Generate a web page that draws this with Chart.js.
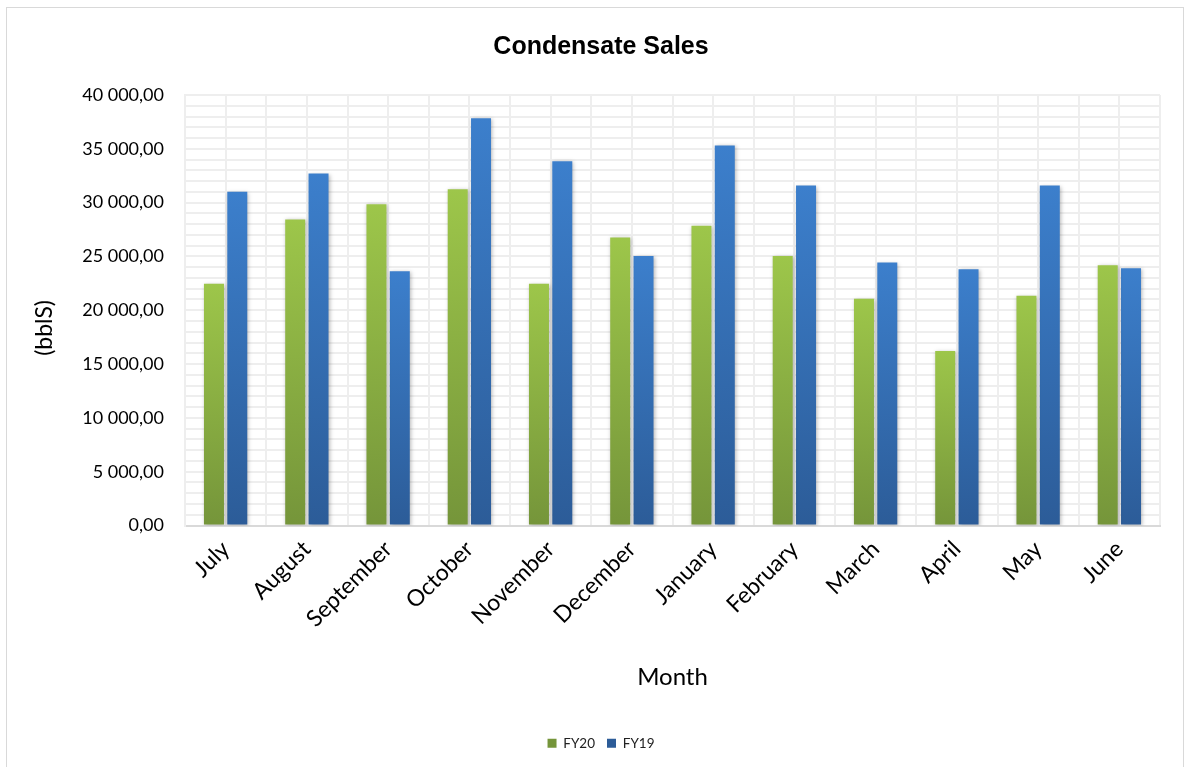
<!DOCTYPE html>
<html>
<head>
<meta charset="utf-8">
<script src="https://cdn.jsdelivr.net/npm/chart.js@4.4.1/dist/chart.umd.min.js"></script>
<style>
  html, body { margin: 0; padding: 0; background: #fff; overflow: hidden; }
  #wrap { position: relative; width: 1187px; height: 767px; }
  #frame { position: absolute; left: 6px; top: 7px; width: 1176px; height: 800px; border: 1px solid #d9d9d9; pointer-events: none; }
  canvas { position: absolute; left: 0; top: 0; }
</style>
</head>
<body>
<div id="wrap">
  <canvas id="c" width="1187" height="767"></canvas>
  <div id="frame"></div>
</div>
<script>
const months = ['July','August','September','October','November','December','January','February','March','April','May','June'];
const fy20 = [22470, 28440, 29840, 31240, 22470, 26760, 27850, 25050, 21070, 16220, 21350, 24180];
const fy19 = [31020, 32700, 23620, 37830, 33850, 25050, 35310, 31580, 24430, 23800, 31580, 23900];
const yTickValues = [0, 5000, 10000, 15000, 20000, 25000, 30000, 35000, 40000];
const yTickLabels = ['0,00', '5 000,00', '10 000,00', '15 000,00', '20 000,00', '25 000,00', '30 000,00', '35 000,00', '40 000,00'];

const FONT = 'Lato, "Open Sans", sans-serif';

function grad(top, bottom, mid) {
  return (ctx) => {
    const chart = ctx.chart;
    const {chartArea, scales} = chart;
    if (!chartArea || ctx.type !== 'data' || !scales.y) return mid;
    const y0 = scales.y.getPixelForValue(ctx.raw);
    const y1 = scales.y.getPixelForValue(0);
    if (!isFinite(y0) || !isFinite(y1) || y0 === y1) return mid;
    const g = chart.ctx.createLinearGradient(0, y0, 0, y1);
    g.addColorStop(0, top);
    g.addColorStop(1, bottom);
    return g;
  };
}

const shadowPlugin = {
  id: 'barShadow',
  beforeDatasetsDraw(chart) {
    const c = chart.ctx;
    c.save();
    c.shadowColor = 'rgba(0,0,0,0.28)';
    c.shadowBlur = 4;
    c.shadowOffsetX = 1;
    c.shadowOffsetY = 1;
  },
  afterDatasetsDraw(chart) {
    chart.ctx.restore();
  }
};

new Chart(document.getElementById('c'), {
  type: 'bar',
  data: {
    labels: months,
    datasets: [
      {
        label: 'FY20',
        data: fy20,
        backgroundColor: grad('#9dc64a', '#75953a', '#8ab543'),
        borderWidth: 0,
        categoryPercentage: 0.574,
        barPercentage: 0.858
      },
      {
        label: 'FY19',
        data: fy19,
        backgroundColor: grad('#3c7fcc', '#2c5c98', '#3670b6'),
        borderWidth: 0,
        categoryPercentage: 0.574,
        barPercentage: 0.858
      }
    ]
  },
  options: {
    responsive: false,
    animation: false,
    devicePixelRatio: 1,
    layout: { padding: { left: 42, right: 27, top: 0, bottom: 7 } },
    plugins: {
      title: {
        display: true,
        text: 'Condensate Sales',
        color: '#000',
        font: { family: '"Liberation Sans", Arial, sans-serif', size: 25, weight: 'bold', lineHeight: 1.2 },
        padding: { top: 32, bottom: 33 }
      },
      legend: {
        position: 'bottom',
        labels: {
          color: '#222',
          font: { family: FONT, size: 13.5, lineHeight: 1.2 },
          boxWidth: 9,
          boxHeight: 9,
          padding: 12
        }
      },
      tooltip: { enabled: false }
    },
    scales: {
      x: {
        type: 'category',
        offset: true,
        grid: { display: true, offset: true, color: '#eeeeee', lineWidth: 2, drawTicks: false },
        border: { display: true, color: '#d9d9d9', width: 2 },
        ticks: {
          color: '#000',
          font: { family: FONT, size: 23 },
          minRotation: 45,
          maxRotation: 45,
          autoSkip: false,
          padding: 10
        },
        title: {
          display: true,
          text: 'Month',
          color: '#000',
          font: { family: FONT, size: 24, lineHeight: 1.2 },
          padding: { top: 0, bottom: 33 }
        },
        afterFit(scale) { scale.height = 199; }
      },
      x2: {
        type: 'category',
        position: 'bottom',
        offset: true,
        grid: { display: true, offset: false, color: '#eeeeee', lineWidth: 2, drawTicks: false },
        border: { display: false },
        ticks: { display: false },
        afterFit(scale) { scale.height = 0; }
      },
      y: {
        min: 0,
        max: 40000,
        grid: { color: '#eeeeee', lineWidth: 2, drawTicks: false },
        border: { display: true, color: '#eeeeee', width: 2 },
        ticks: {
          stepSize: 1000,
          autoSkip: false,
          color: '#000',
          padding: 21,
          font: { family: FONT, size: 18 },
          callback(value) {
            const i = yTickValues.indexOf(value);
            return i >= 0 ? yTickLabels[i] : '';
          }
        },
        title: {
          display: true,
          text: '(bblS)      ',
          color: '#000',
          font: { family: FONT, size: 23, lineHeight: 1.2 },
          padding: { top: -11, bottom: 0 }
        },
        afterFit(scale) { scale.width = 143; }
      }
    }
  },
  plugins: [shadowPlugin]
});
</script>
</body>
</html>
